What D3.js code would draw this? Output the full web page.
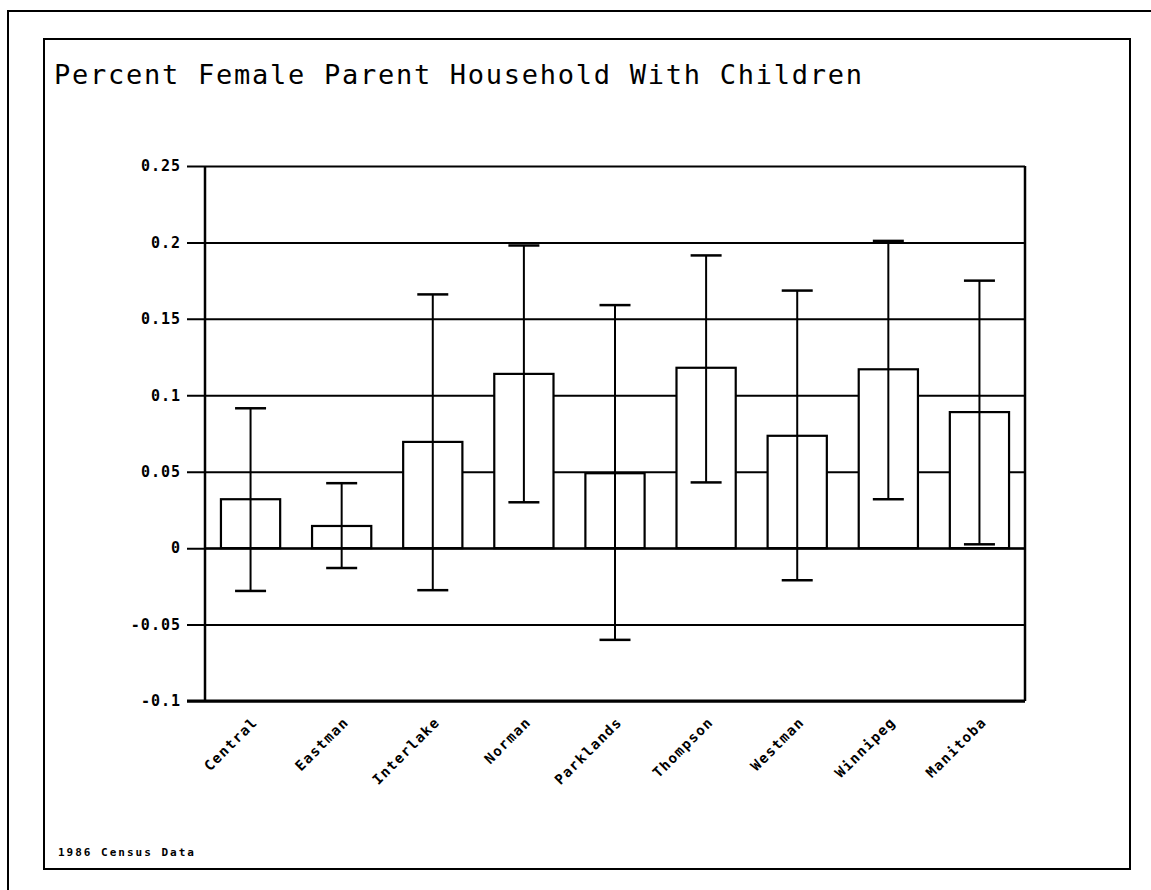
<!DOCTYPE html>
<html>
<head>
<meta charset="utf-8">
<script src="https://cdn.jsdelivr.net/npm/d3@7"></script>
<style>
  html, body { margin: 0; padding: 0; background: #fff; }
  svg { display: block; }
</style>
</head>
<body>
<svg id="chart" width="1151" height="890"></svg>
<script>
const categories = ["Central", "Eastman", "Interlake", "Norman", "Parklands", "Thompson", "Westman", "Winnipeg", "Manitoba"];
const means = [0.032, 0.0145, 0.0695, 0.114, 0.049, 0.118, 0.0735, 0.117, 0.089];
const upper = [0.0915, 0.0425, 0.166, 0.198, 0.159, 0.1915, 0.1685, 0.201, 0.175];
const lower = [-0.028, -0.013, -0.0275, 0.030, -0.060, 0.043, -0.021, 0.032, 0.0025];
const yTicks = [-0.1, -0.05, 0, 0.05, 0.1, 0.15, 0.2, 0.25];
const yTickLabels = ["-0.1", "-0.05", "0", "0.05", "0.1", "0.15", "0.2", "0.25"];
const title = "Percent Female Parent Household With Children";
const footnote = "1986 Census Data";

(function () {
const svg = d3.select("#chart");
const ink = "#000";
const mono = "'DejaVu Sans Mono', 'Liberation Mono', monospace";

// frames
svg.append("rect").attr("x", 8).attr("y", 11).attr("width", 1160).attr("height", 900)
  .attr("fill", "none").attr("stroke", ink).attr("stroke-width", 2);
svg.append("rect").attr("x", 44).attr("y", 39).attr("width", 1086).attr("height", 830)
  .attr("fill", "none").attr("stroke", ink).attr("stroke-width", 2);

// title
svg.append("text").attr("x", 54).attr("y", 84)
  .attr("font-family", mono).attr("font-size", 27)
  .attr("textLength", 808).attr("lengthAdjust", "spacing")
  .attr("fill", ink).text(title);

const pL = 205, pR = 1025, pT = 166, pB = 701;
const x = d3.scaleBand().domain(categories).range([pL, pR]).paddingInner(0.35).paddingOuter(0.175);
const y = d3.scaleLinear().domain([-0.1, 0.25]).range([pB, pT]);

// gridlines + ticks
const yAxis = d3.axisLeft(y).tickValues(yTicks).tickSize(-(pR - pL)).tickSizeOuter(0)
  .tickFormat((d, i) => yTickLabels[i]).tickPadding(24);
const gy = svg.append("g").attr("transform", `translate(${pL},0)`).call(yAxis);
gy.select(".domain").remove();
gy.selectAll(".tick line").attr("x1", -18).attr("stroke", ink).attr("stroke-width", 2);
gy.selectAll(".tick text").attr("font-family", mono).attr("font-weight", "bold")
  .attr("font-size", 15).attr("letter-spacing", 1).attr("fill", ink);

// bars
svg.append("g").selectAll("rect").data(categories).join("rect")
  .attr("x", d => x(d))
  .attr("width", x.bandwidth())
  .attr("y", (d, i) => y(Math.max(0, means[i])))
  .attr("height", (d, i) => Math.abs(y(means[i]) - y(0)))
  .attr("fill", "#fff").attr("stroke", ink).attr("stroke-width", 2.2);

svg.append("line").attr("x1", pL).attr("x2", pR).attr("y1", y(0)).attr("y2", y(0))
  .attr("stroke", ink).attr("stroke-width", 2);

// error bars
const capW = 31;
const eb = svg.append("g").attr("stroke", ink).attr("stroke-width", 2);
categories.forEach((c, i) => {
  const cx = x(c) + x.bandwidth() / 2;
  eb.append("line").attr("x1", cx).attr("x2", cx).attr("y1", y(upper[i])).attr("y2", y(lower[i]));
  eb.append("line").attr("x1", cx - capW / 2).attr("x2", cx + capW / 2).attr("y1", y(upper[i])).attr("y2", y(upper[i])).attr("stroke-width", 2.5);
  eb.append("line").attr("x1", cx - capW / 2).attr("x2", cx + capW / 2).attr("y1", y(lower[i])).attr("y2", y(lower[i])).attr("stroke-width", 2.5);
});

// plot border
svg.append("line").attr("x1", pL).attr("x2", pL).attr("y1", pT).attr("y2", pB)
  .attr("stroke", ink).attr("stroke-width", 2.5);
svg.append("line").attr("x1", pR).attr("x2", pR).attr("y1", pT).attr("y2", pB)
  .attr("stroke", ink).attr("stroke-width", 2.5);
svg.append("line").attr("x1", pL - 18).attr("x2", pR).attr("y1", pB).attr("y2", pB)
  .attr("stroke", ink).attr("stroke-width", 3);

// x labels
const xAxis = d3.axisBottom(x).tickSize(0);
const gx = svg.append("g").attr("transform", `translate(0,${pB})`).call(xAxis);
gx.select(".domain").remove();
gx.selectAll(".tick text")
  .attr("font-family", mono).attr("font-weight", "bold").attr("font-size", 14)
  .attr("letter-spacing", 1.4).attr("fill", ink)
  .attr("text-anchor", "end")
  .attr("dy", 0).attr("y", 0)
  .attr("transform", "translate(8,22) rotate(-45)");

// footnote
svg.append("text").attr("x", 58).attr("y", 856)
  .attr("font-family", mono).attr("font-weight", "bold").attr("font-size", 11)
  .attr("letter-spacing", 2).attr("fill", ink).text(footnote);
})();
</script>
</body>
</html>
